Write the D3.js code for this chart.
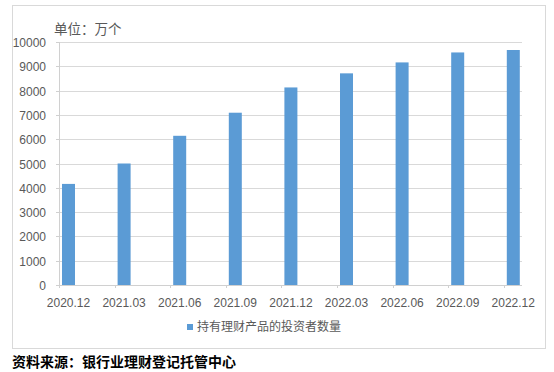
<!DOCTYPE html>
<html>
<head>
<meta charset="utf-8">
<script src="https://cdn.jsdelivr.net/npm/d3@7.9.0/dist/d3.min.js"></script>
<style>
  body { margin: 0; background: #fff; }
  svg { display: block; }
</style>
</head>
<body>
<svg id="chart" width="554" height="372"></svg>
<script>
const periods = ['2020.12', '2021.03', '2021.06', '2021.09', '2021.12', '2022.03', '2022.06', '2022.09', '2022.12'];
const investors = [4160, 5000, 6140, 7090, 8130, 8710, 9160, 9570, 9671];
const yTicks = [0, 1000, 2000, 3000, 4000, 5000, 6000, 7000, 8000, 9000, 10000];
const seriesName = '持有理财产品的投资者数量';

const svg = d3.select('#chart');
const numFont = '"Liberation Sans", Arial, sans-serif';
const cjkFont = '"Noto Sans CJK SC", sans-serif';

// outer frame
svg.append('rect')
  .attr('x', 12.5).attr('y', 5.5)
  .attr('width', 533).attr('height', 343)
  .attr('fill', 'none')
  .attr('stroke', '#d9d9d9');

const plotL = 59, plotR = 522, plotT = 42, plotB = 285;

const x = d3.scaleBand()
  .domain(periods)
  .range([plotL, plotL + 55.6 * periods.length]);

const y = d3.scaleLinear()
  .domain([0, 10000])
  .range([plotB, plotT]);

// gridlines
svg.append('g')
  .selectAll('line')
  .data(yTicks.slice(1))
  .enter()
  .append('line')
  .attr('x1', plotL).attr('x2', plotR)
  .attr('y1', (d) => Math.round(y(d)) + 0.5)
  .attr('y2', (d) => Math.round(y(d)) + 0.5)
  .attr('stroke', '#d9d9d9');

// bars
svg.append('g')
  .selectAll('rect')
  .data(investors)
  .enter()
  .append('rect')
  .attr('x', (d, i) => x(periods[i]) + 3)
  .attr('width', 13)
  .attr('y', (d) => y(d))
  .attr('height', (d) => plotB - y(d))
  .attr('fill', '#5b9bd5');

// axes lines
svg.append('line')
  .attr('x1', plotL + 0.5).attr('x2', plotL + 0.5)
  .attr('y1', plotT).attr('y2', plotB + 3)
  .attr('stroke', '#d0d0d0');
svg.append('line')
  .attr('x1', plotL - 3).attr('x2', plotR)
  .attr('y1', plotB + 0.5).attr('y2', plotB + 0.5)
  .attr('stroke', '#d0d0d0');

// y ticks + labels
const yAxis = svg.append('g');
yTicks.forEach((t) => {
  const yy = Math.round(y(t)) + 0.5;
  yAxis.append('line')
    .attr('x1', plotL - 3).attr('x2', plotL)
    .attr('y1', yy).attr('y2', yy)
    .attr('stroke', '#d0d0d0');
  yAxis.append('text')
    .attr('x', 46).attr('y', yy)
    .attr('dy', '0.35em')
    .attr('text-anchor', 'end')
    .attr('font-family', numFont)
    .attr('font-size', 12)
    .attr('fill', '#595959')
    .text(t);
});

// x ticks + labels
const xAxis = svg.append('g');
periods.forEach((p) => {
  const xx = Math.round(x(p)) + 0.5;
  xAxis.append('line')
    .attr('x1', xx).attr('x2', xx)
    .attr('y1', plotB).attr('y2', plotB + 3)
    .attr('stroke', '#d0d0d0');
  xAxis.append('text')
    .attr('x', x(p) + 9.5).attr('y', 303)
    .attr('dy', '0.35em')
    .attr('text-anchor', 'middle')
    .attr('font-family', numFont)
    .attr('font-size', 12)
    .attr('fill', '#595959')
    .text(p);
});

// unit label
svg.append('text')
  .attr('x', 54).attr('y', 34)
  .attr('font-family', cjkFont)
  .attr('font-size', 13.5)
  .attr('fill', '#595959')
  .text('单位：万个');

// legend
svg.append('rect')
  .attr('x', 187).attr('y', 324)
  .attr('width', 6).attr('height', 6)
  .attr('fill', '#5b9bd5');
svg.append('text')
  .attr('x', 197).attr('y', 327)
  .attr('dy', '0.35em')
  .attr('font-family', cjkFont)
  .attr('font-size', 12)
  .attr('fill', '#595959')
  .text(seriesName);

// source
svg.append('text')
  .attr('x', 12).attr('y', 362)
  .attr('dy', '0.35em')
  .attr('font-family', cjkFont)
  .attr('font-size', 14)
  .attr('font-weight', 'bold')
  .attr('fill', '#000')
  .text('资料来源：银行业理财登记托管中心');
</script>
</body>
</html>
